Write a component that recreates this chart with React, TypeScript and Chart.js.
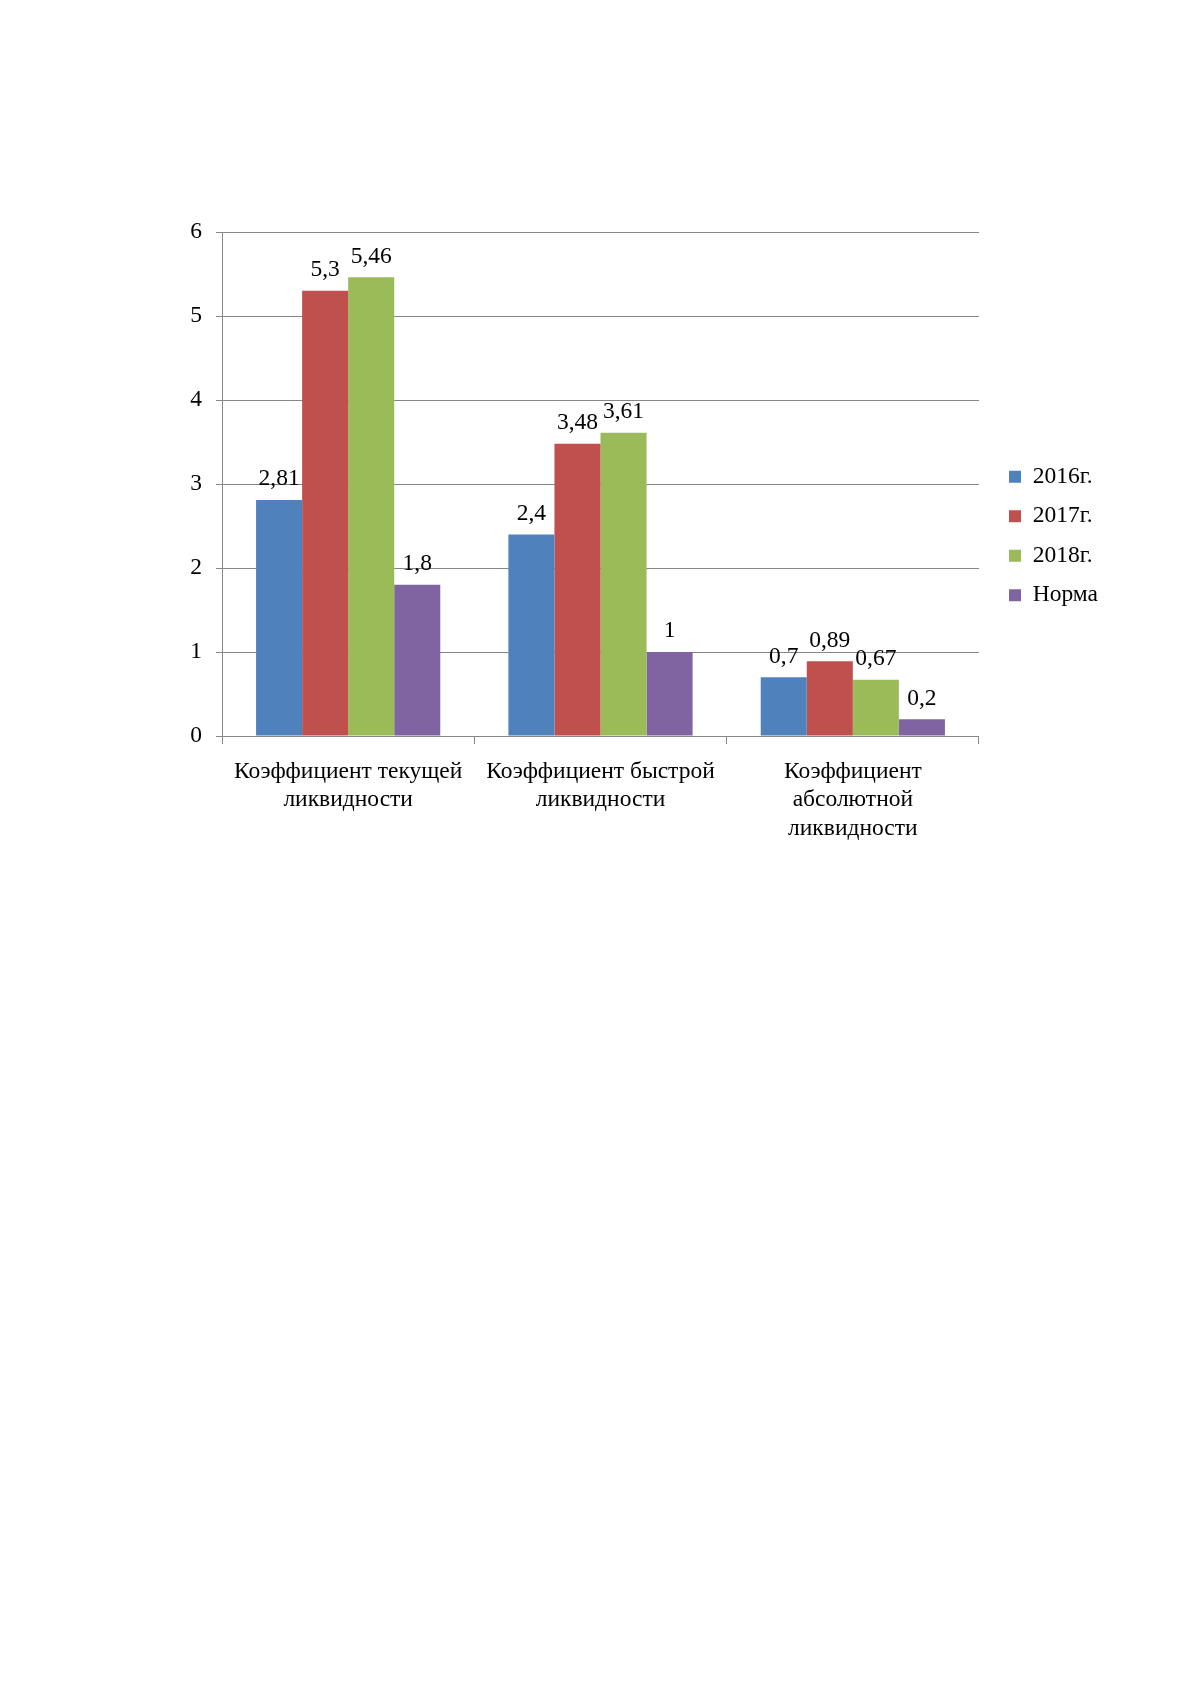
import { useEffect, useRef } from "react"
import { Chart, registerables } from "chart.js"

Chart.register(...registerables)

const categories = [
  ["Коэффициент текущей", "ликвидности"],
  ["Коэффициент быстрой", "ликвидности"],
  ["Коэффициент", "абсолютной", "ликвидности"],
]
const seriesNames = ["2016г.", "2017г.", "2018г.", "Норма"]
const colors = ["#4F81BD", "#C0504D", "#9BBB59", "#8064A2"]
const values2016 = [2.81, 2.4, 0.7]
const values2017 = [5.3, 3.48, 0.89]
const values2018 = [5.46, 3.61, 0.67]
const valuesNorm = [1.8, 1, 0.2]
const yTicks = [0, 1, 2, 3, 4, 5, 6]

const FONT = "'Liberation Serif', 'Times New Roman', serif"
const FONT_SIZE = 23.5

// подписи значений над столбцами
const valueLabels = {
  id: "valueLabels",
  afterDatasetsDraw(chart: any) {
    const ctx = chart.ctx
    ctx.save()
    ctx.font = `${FONT_SIZE}px ${FONT}`
    ctx.fillStyle = "#000"
    ctx.textAlign = "center"
    ctx.textBaseline = "bottom"
    chart.data.datasets.forEach((ds: any, i: number) => {
      const meta = chart.getDatasetMeta(i)
      meta.data.forEach((bar: any, j: number) => {
        const text = String(ds.data[j]).replace(".", ",")
        ctx.fillText(text, bar.x, bar.y - 9)
      })
    })
    ctx.restore()
  },
}

export default function App() {
  const canvasRef = useRef<HTMLCanvasElement>(null)
  const chartRef = useRef<Chart | null>(null)

  useEffect(() => {
    if (!canvasRef.current) return
    if (chartRef.current) chartRef.current.destroy()

    const series = [values2016, values2017, values2018, valuesNorm]
    chartRef.current = new Chart(canvasRef.current, {
      type: "bar",
      data: {
        labels: categories,
        datasets: series.map((data, i) => ({
          label: seriesNames[i],
          data,
          backgroundColor: colors[i],
          borderWidth: 0,
          categoryPercentage: 0.73,
          barPercentage: 1,
        })),
      },
      options: {
        animation: false,
        responsive: true,
        maintainAspectRatio: false,
        layout: { padding: { left: 150, top: 232, right: 83, bottom: 60 } },
        plugins: {
          tooltip: { enabled: false },
          legend: {
            position: "right",
            align: "center",
            labels: {
              boxWidth: 12,
              boxHeight: 12,
              padding: 16,
              color: "#000",
              font: { family: FONT, size: FONT_SIZE },
            },
          },
        },
        scales: {
          x: {
            afterFit: (scale: any) => {
              scale.height = 104
            },
            grid: {
              offset: true,
              drawOnChartArea: false,
              drawTicks: true,
              tickLength: 8,
              color: "#868686",
            },
            border: { color: "#868686" },
            ticks: {
              color: "#000",
              padding: 14,
              maxRotation: 0,
              font: { family: FONT, size: FONT_SIZE, lineHeight: 1.2 },
            },
          },
          y: {
            min: 0,
            max: 6,
            afterFit: (scale: any) => {
              scale.width = 72
            },
            afterBuildTicks: (scale: any) => {
              scale.ticks = yTicks.map((v) => ({ value: v }))
            },
            grid: {
              color: "#868686",
              tickLength: 6,
            },
            border: { color: "#868686" },
            ticks: {
              color: "#000",
              padding: 14,
              font: { family: FONT, size: FONT_SIZE },
            },
          },
          // пустая ось справа — отступ между графиком и легендой
          spacer: {
            type: "linear",
            position: "right",
            afterFit: (scale: any) => {
              scale.width = 14
            },
            grid: { display: false, drawTicks: false },
            border: { display: false },
            ticks: { display: false },
          },
        },
      },
      plugins: [valueLabels],
    })

    return () => {
      if (chartRef.current) {
        chartRef.current.destroy()
        chartRef.current = null
      }
    }
  }, [])

  return (
    <div style={{ position: "absolute", left: 0, top: 0, width: 1191, height: 900, background: "#fff" }}>
      <canvas ref={canvasRef} />
    </div>
  )
}
